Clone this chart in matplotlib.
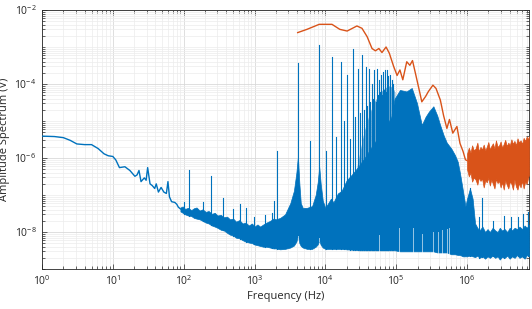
import numpy as np
import matplotlib
matplotlib.use('Agg')
import matplotlib.pyplot as plt
import matplotlib.ticker as ticker

plt.rcParams['font.family'] = ['Open Sans', 'DejaVu Sans']
plt.rcParams['mathtext.fontset'] = 'custom'
plt.rcParams['mathtext.rm'] = 'Open Sans'
plt.rcParams['mathtext.it'] = 'Open Sans:italic'

BLUE = '#0072BD'
ORANGE = '#D95319'

# ---- blue spectrum, low-frequency part (single line), Hz / V
low_freq = [1, 1.5, 2, 2.5, 3.1, 4, 5, 6.2, 7.5, 8.6, 10, 11, 12.4, 14.8, 17.4, 20.5, 22,
            23.4, 25, 27.8, 29.5, 31, 33.5, 36, 39, 41, 44, 48, 52.5, 57, 60, 63, 67.5,
            75, 80, 84, 90]
low_amp = [3.9e-6, 3.8e-6, 3.55e-6, 3.0e-6, 2.4e-6, 2.3e-6, 2.3e-6, 1.8e-6, 1.3e-6, 1.15e-6,
           1.1e-6, 8.9e-7, 5.5e-7, 5.8e-7, 4.6e-7, 3.2e-7, 3.5e-7, 4.6e-7, 2.3e-7, 2.9e-7,
           2.5e-7, 5.5e-7, 2.0e-7, 1.8e-7, 1.5e-7, 2.0e-7, 1.2e-7, 1.6e-7, 1.2e-7, 1.1e-7,
           2.3e-7, 8.9e-8, 6.6e-8, 6.3e-8, 5.6e-8, 4.7e-8, 4.2e-8]

# ---- blue spectrum, dense part: lower and upper edge of the noise band
band_freq = [90, 97, 105, 115, 128, 140, 152, 168, 185, 205, 225, 250, 275, 300, 335, 370,
             410, 450, 500, 550, 610, 680, 750, 830, 920, 1000, 1100, 1200, 1330, 1480, 1660,
             1850, 2000, 2300, 2700, 3200, 3600, 3900, 4100, 4300, 4500, 4800, 5500,
             6500, 7300, 7800, 8200, 8600, 9200, 1.0e4, 1.2e4, 1.3e4, 1.5e4, 1.7e4, 2.0e4,
             2.5e4, 3.0e4, 3.7e4, 4.5e4, 5.5e4, 7.0e4, 8.5e4, 9.5e4, 1.13e5, 1.4e5, 1.66e5,
             1.96e5, 2.3e5, 2.6e5, 2.9e5, 3.35e5, 3.8e5, 4.17e5, 4.7e5, 5.18e5, 6.0e5, 6.76e5,
             7.4e5, 7.95e5, 8.7e5, 9.5e5, 1.0e6, 1.1e6, 1.2e6, 1.3e6, 1.4e6, 1.5e6, 1.65e6,
             1.8e6, 1.95e6, 2.1e6, 2.3e6, 2.5e6, 2.7e6, 2.9e6, 3.1e6, 3.4e6, 3.7e6, 4.0e6,
             4.3e6, 4.7e6, 5.1e6, 5.5e6, 6.0e6, 6.5e6, 7.0e6, 7.5e6]
band_lo = [3.6e-8, 3.3e-8, 3.0e-8, 2.8e-8, 2.7e-8, 2.4e-8, 2.3e-8, 2.2e-8, 2.0e-8, 1.8e-8,
           1.7e-8, 1.5e-8, 1.4e-8, 1.3e-8, 1.15e-8, 1.1e-8, 9.5e-9, 8.5e-9, 8.0e-9, 7.0e-9,
           6.8e-9, 6.0e-9, 5.5e-9, 5.2e-9, 5.0e-9, 4.6e-9, 4.4e-9, 4.2e-9, 4.0e-9, 4.0e-9,
           3.8e-9, 3.6e-9, 3.6e-9, 3.4e-9, 3.5e-9, 3.8e-9, 4.3e-9, 5.5e-9, 8.0e-9, 5.0e-9,
           4.2e-9, 3.8e-9, 3.5e-9, 3.5e-9, 4.0e-9, 4.6e-9, 6.0e-9, 4.5e-9, 3.8e-9, 3.5e-9,
           3.5e-9, 3.5e-9, 3.5e-9, 3.5e-9, 3.4e-9, 3.3e-9, 3.2e-9, 3.2e-9, 3.2e-9, 3.2e-9,
           3.2e-9, 3.2e-9, 3.2e-9, 3.0e-9, 3.0e-9, 3.0e-9, 3.0e-9, 3.0e-9, 3.0e-9, 3.0e-9,
           3.0e-9, 2.8e-9, 2.8e-9, 2.8e-9, 2.8e-9, 2.5e-9, 2.5e-9, 2.4e-9, 2.4e-9, 2.2e-9,
           2.2e-9, 2.2e-9, 2.3e-9, 2.2e-9, 2.1e-9, 2.3e-9, 2.0e-9, 2.2e-9, 1.9e-9, 2.2e-9,
           2.0e-9, 2.3e-9, 2.0e-9, 2.2e-9, 1.8e-9, 2.1e-9, 2.0e-9, 2.3e-9, 1.9e-9, 2.2e-9,
           2.0e-9, 2.4e-9, 2.0e-9, 2.2e-9, 1.9e-9, 2.4e-9, 2.2e-9]
band_hi = [4.6e-8, 4.9e-8, 4.2e-8, 4.5e-8, 3.9e-8, 4.4e-8, 4.6e-8, 3.8e-8, 4.1e-8, 3.5e-8,
           3.7e-8, 3.1e-8, 3.3e-8, 2.8e-8, 2.9e-8, 2.5e-8, 2.6e-8, 2.2e-8, 2.3e-8, 1.9e-8,
           2.1e-8, 1.7e-8, 1.8e-8, 1.5e-8, 1.7e-8, 1.4e-8, 1.6e-8, 1.4e-8, 1.6e-8, 1.8e-8,
           2.0e-8, 2.3e-8, 2.2e-8, 2.4e-8, 3.0e-8, 6.0e-8, 1.3e-7, 4.0e-7, 1.1e-6, 2.0e-7,
           6.0e-8, 4.5e-8, 4.5e-8, 5.0e-8, 1.0e-7, 2.2e-7, 5.8e-7, 2.0e-7, 7.0e-8, 4.5e-8,
           8.0e-8, 6.3e-8, 1.1e-7, 1.3e-7, 2.5e-7, 4.0e-7, 6.3e-7, 1.1e-6, 2.0e-6, 3.5e-6,
           6.3e-6, 1.3e-5, 4.0e-5, 6.9e-5, 6.3e-5, 7.8e-5, 3.1e-5, 7.8e-6, 1.3e-5, 1.8e-5,
           2.5e-5, 1.4e-5, 7.8e-6, 4.0e-6, 2.6e-6, 1.8e-6, 1.2e-6, 7.9e-7, 3.9e-7, 1.4e-7,
           5.0e-8, 7.9e-8, 1.5e-7, 7.9e-8, 1.7e-8, 1.3e-8, 1.1e-8, 1.4e-8, 1.0e-8, 1.2e-8,
           1.0e-8, 1.3e-8, 1.1e-8, 1.0e-8, 1.3e-8, 1.1e-8, 1.2e-8, 1.0e-8, 1.3e-8, 1.1e-8,
           1.3e-8, 1.2e-8, 1.4e-8, 1.2e-8, 1.5e-8, 1.3e-8, 1.6e-8]

# region where the harmonic lines are so dense they look like a lighter fill, Hz / V
dense_freq = [2.8e4, 3.5e4, 4.2e4, 5.0e4, 6.0e4, 7.0e4, 8.0e4, 9.0e4, 9.6e4]
dense_lo = [5.5e-7, 9.0e-7, 1.6e-6, 2.6e-6, 4.5e-6, 6.3e-6, 1.0e-5, 2.0e-5, 4.0e-5]
dense_hi = [6.0e-7, 5.0e-6, 1.6e-5, 3.5e-5, 6.0e-5, 8.0e-5, 9.0e-5, 8.0e-5, 6.0e-5]

# ---- blue spectral lines (harmonics of ~2.05 kHz and mains pickup), Hz / V
spike_freq = [101, 120, 190, 240, 363, 500, 624, 760, 980, 1400, 1750, 1900, 2050,
              4100, 6150, 8200, 10250, 12300, 14350, 16400, 18450, 20500, 22550, 24600,
              26650, 28700, 30750, 32800, 34850, 36900, 38950, 41000, 43050, 45100, 47150,
              49200, 51250, 53300, 55350, 57400, 59450, 61500, 63550, 65600, 67650, 69700,
              71750, 73800, 75850, 77900, 82000, 86100, 90200,
              1.1e6, 1.5e6, 1.62e6, 2.3e6, 3.3e6, 4.2e6, 5.3e6, 6.2e6, 7.2e6]
spike_amp = [6.3e-8, 4.8e-7, 6.3e-8, 3.3e-7, 8.3e-8, 4.2e-8, 5.8e-8, 4.5e-8, 2.5e-8, 2.8e-8,
             3.2e-8, 7.1e-8, 1.5e-6,
             3.6e-4, 2.8e-6, 1.1e-3, 1.5e-6, 5.5e-4, 3.8e-6, 4.0e-4, 1.0e-5, 1.7e-4,
             3.2e-6, 8.9e-4, 1.3e-5, 2.5e-4, 1.6e-5, 6.0e-4, 2.0e-5, 2.8e-4, 2.5e-5,
             2.5e-4, 3.2e-5, 1.0e-4, 4.0e-5, 2.4e-4, 3.2e-5, 2.6e-4, 5.0e-5, 1.3e-4,
             6.0e-5, 1.8e-4, 5.0e-5, 2.1e-4, 7.0e-5, 2.4e-4, 6.0e-5, 2.4e-4, 8.0e-5,
             1.6e-4, 1.8e-4, 1.3e-4, 1.0e-4,
             1.5e-7, 2.6e-8, 8.3e-8, 2.0e-8, 2.7e-8, 2.6e-8, 2.6e-8, 3.0e-8, 3.5e-8]

# light notches inside the dense blue band, Hz / V (top of notch)
notch_freq = [4100, 8200, 5.7e4, 1.1e5, 1.7e5, 2.3e5, 3.3e5, 3.9e5, 4.5e5, 5.2e5, 5.65e5]
notch_top = [7.0e-9, 7.0e-9, 8.5e-9, 1.25e-8, 1.25e-8, 9.0e-9, 1.0e-8, 1.0e-8, 1.1e-8,
             1.2e-8, 1.3e-8]

# ---- orange spectrum: smooth part, Hz / V
or_freq = [4070, 5500, 8200, 1.24e4, 1.6e4, 2.03e4, 2.79e4, 3.29e4, 3.89e4, 4.56e4, 5.09e4,
           5.7e4, 6.3e4, 7.2e4, 8.0e4, 9.2e4, 1.03e5, 1.13e5, 1.24e5, 1.41e5, 1.56e5, 1.7e5,
           1.9e5, 2.14e5, 2.3e5, 2.6e5, 2.84e5, 3.3e5, 3.65e5, 4.2e5, 4.67e5, 5.2e5, 5.65e5,
           6.3e5, 7.2e5, 7.95e5, 8.8e5, 9.5e5, 1.0e6]
or_amp = [2.45e-3, 3.0e-3, 4.1e-3, 4.1e-3, 3.0e-3, 2.7e-3, 3.7e-3, 3.2e-3, 1.9e-3, 9.1e-4,
          7.9e-4, 9.1e-4, 7.1e-4, 1.0e-3, 6.8e-4, 3.0e-4, 1.7e-4, 2.4e-4, 1.3e-4, 4.0e-4,
          3.2e-4, 4.3e-4, 1.7e-4, 6.2e-5, 3.3e-5, 4.6e-5, 6.2e-5, 9.3e-5, 7.6e-5, 3.7e-5,
          1.4e-5, 6.3e-6, 1.1e-5, 4.7e-6, 7.1e-6, 2.5e-6, 1.5e-6, 9.0e-7, 8.5e-7]

# orange spectrum: noise floor band above 1 MHz, Hz / V
orn_freq = [1.0e6, 1.06e6, 1.12e6, 1.18e6, 1.25e6, 1.32e6, 1.4e6, 1.47e6, 1.55e6, 1.63e6,
            1.72e6, 1.81e6, 1.9e6, 2.0e6, 2.1e6, 2.2e6, 2.32e6, 2.44e6, 2.56e6, 2.7e6,
            2.84e6, 2.98e6, 3.13e6, 3.3e6, 3.46e6, 3.64e6, 3.83e6, 4.02e6, 4.23e6, 4.45e6,
            4.67e6, 4.91e6, 5.16e6, 5.43e6, 5.7e6, 6.0e6, 6.3e6, 6.62e6, 6.96e6, 7.25e6, 7.5e6]
orn_lo = [5.0e-7, 3.2e-7, 4.0e-7, 2.3e-7, 3.0e-7, 2.6e-7, 1.9e-7, 3.0e-7, 2.4e-7, 2.8e-7,
          1.6e-7, 2.5e-7, 2.2e-7, 2.9e-7, 1.8e-7, 2.6e-7, 2.0e-7, 1.5e-7, 2.7e-7, 2.1e-7,
          2.4e-7, 1.6e-7, 2.2e-7, 1.4e-7, 2.5e-7, 1.9e-7, 1.5e-7, 2.3e-7, 2.0e-7, 1.4e-7,
          2.6e-7, 1.7e-7, 1.4e-7, 2.1e-7, 1.6e-7, 2.4e-7, 1.5e-7, 2.3e-7, 2.0e-7, 2.8e-7, 3.6e-7]
orn_hi = [1.3e-6, 1.9e-6, 1.4e-6, 2.2e-6, 1.6e-6, 1.8e-6, 2.6e-6, 1.5e-6, 2.0e-6, 1.7e-6,
          2.3e-6, 1.6e-6, 2.0e-6, 2.7e-6, 1.7e-6, 2.1e-6, 2.5e-6, 1.8e-6, 3.0e-6, 2.0e-6,
          2.2e-6, 2.8e-6, 1.9e-6, 2.4e-6, 3.1e-6, 2.1e-6, 2.6e-6, 2.2e-6, 3.2e-6, 2.4e-6,
          2.9e-6, 2.2e-6, 3.4e-6, 2.6e-6, 3.0e-6, 2.4e-6, 3.5e-6, 2.9e-6, 3.8e-6, 3.2e-6, 3.9e-6]

fig = plt.figure(figsize=(5.32, 3.09), dpi=100)
ax = fig.add_axes([42/532, 1 - 269/309, (529 - 42)/532, (269 - 10)/309])

# blue
ax.plot(low_freq, low_amp, color=BLUE, lw=1.0, zorder=3)
ax.fill_between(band_freq, band_lo, band_hi, color=BLUE, lw=0.5, edgecolor=BLUE, zorder=3)
ax.fill_between(dense_freq, dense_lo, dense_hi, color=BLUE, alpha=0.55, lw=0, zorder=3)
for f, a in zip(spike_freq, spike_amp):
    base = np.interp(np.log10(f), np.log10(band_freq), np.log10(band_lo))
    ax.plot([f, f], [10**base, a], color=BLUE, lw=0.8, zorder=3)
for f, a in zip(notch_freq, notch_top):
    base = np.interp(np.log10(f), np.log10(band_freq), np.log10(band_lo))
    ax.plot([f, f], [10**base * 0.95, a], color='white', lw=0.7, alpha=0.6, zorder=4)

# orange
ax.plot(or_freq, or_amp, color=ORANGE, lw=1.0, zorder=5)
ax.fill_between(orn_freq, orn_lo, orn_hi, color=ORANGE, lw=0.5, edgecolor=ORANGE, zorder=5)

ax.set_xscale('log')
ax.set_yscale('log')
ax.set_xlim(1, 7.5e6)
ax.set_ylim(1e-9, 1e-2)

ax.xaxis.set_major_locator(ticker.FixedLocator([1e0, 1e1, 1e2, 1e3, 1e4, 1e5, 1e6]))
ax.xaxis.set_minor_locator(ticker.LogLocator(base=10, subs=np.arange(2, 10), numticks=20))
ax.yaxis.set_major_locator(ticker.FixedLocator([1e-8, 1e-6, 1e-4, 1e-2]))
ax.yaxis.set_minor_locator(ticker.LogLocator(base=10, subs=np.arange(1, 10), numticks=20))
ax.xaxis.set_major_formatter(ticker.LogFormatterSciNotation())
ax.yaxis.set_major_formatter(ticker.LogFormatterSciNotation())
ax.xaxis.set_minor_formatter(ticker.NullFormatter())
ax.yaxis.set_minor_formatter(ticker.NullFormatter())

ax.grid(True, which='major', color='#d9d9d9', lw=0.6, zorder=0)
ax.grid(True, which='minor', color='#ececec', lw=0.5, zorder=0)
ax.set_axisbelow(True)

for s in ax.spines.values():
    s.set_color('#262626')
    s.set_linewidth(0.6)
ax.tick_params(which='both', direction='in', top=True, right=True, colors='#262626',
               labelsize=7.5, width=0.5)
ax.tick_params(which='major', length=3.5, pad=4)
ax.tick_params(which='minor', length=2)

ax.set_xlabel('Frequency (Hz)', fontsize=8, color='#262626', labelpad=2)
ax.set_ylabel('Amplitude Spectrum (V)', fontsize=8, color='#262626')
ax.yaxis.set_label_coords(-0.066, 0.5)

fig.savefig('out.png', dpi=100)
